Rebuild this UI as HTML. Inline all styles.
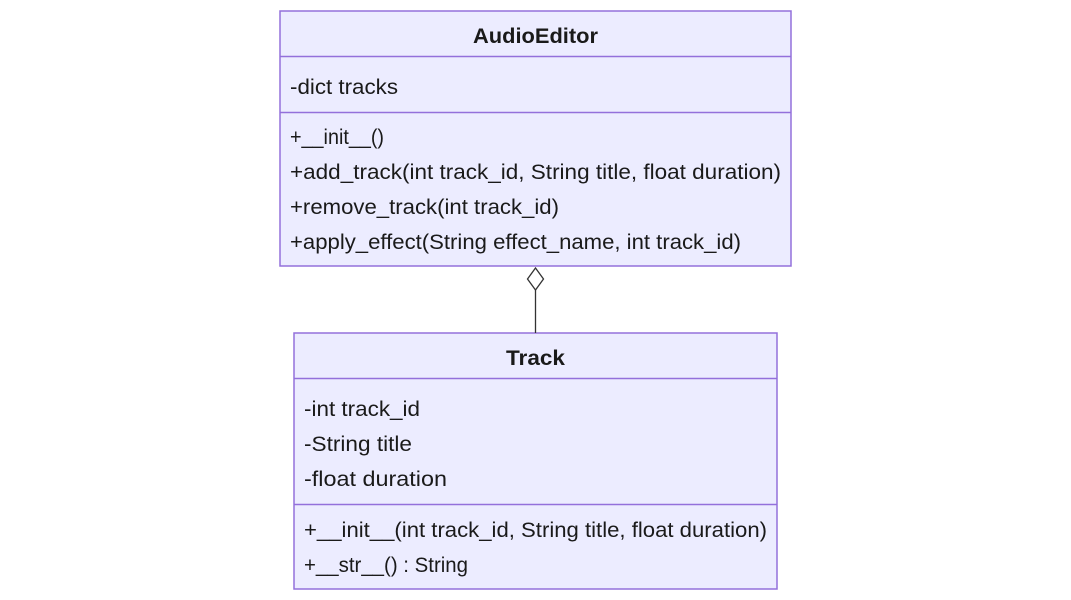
<!DOCTYPE html>
<html><head><meta charset="utf-8"><style>
html,body{margin:0;padding:0;background:#fff;width:1071px;height:600px;overflow:hidden}
svg text{font-family:"Liberation Sans",sans-serif;font-size:21px;fill:#1a1a1a}
</style></head><body>
<svg width="1071" height="600" viewBox="0 0 1071 600" xmlns="http://www.w3.org/2000/svg">
<g stroke="#9370db" stroke-width="1.5" fill="#ececff">
<rect x="280" y="11" width="511" height="255"/>
<line x1="280" y1="56.5" x2="791" y2="56.5"/>
<line x1="280" y1="112.5" x2="791" y2="112.5"/>
<rect x="294" y="333" width="483" height="256"/>
<line x1="294" y1="378.5" x2="777" y2="378.5"/>
<line x1="294" y1="504.5" x2="777" y2="504.5"/>
</g>
<line x1="535.5" y1="290" x2="535.5" y2="333" stroke="#333" stroke-width="1.3"/>
<polygon points="535.5,268 543.5,279 535.5,290 527.5,279" fill="#fff" stroke="#333" stroke-width="1.3"/>
<text x="535.5" y="43" text-anchor="middle" font-weight="bold" textLength="125" lengthAdjust="spacingAndGlyphs">AudioEditor</text>
<text x="290" y="94" textLength="108" lengthAdjust="spacingAndGlyphs">-dict tracks</text>
<text x="290" y="144" textLength="94" lengthAdjust="spacingAndGlyphs">+__init__()</text>
<text x="290" y="179" textLength="491" lengthAdjust="spacingAndGlyphs">+add_track(int track_id, String title, float duration)</text>
<text x="290" y="214" textLength="269" lengthAdjust="spacingAndGlyphs">+remove_track(int track_id)</text>
<text x="290" y="249" textLength="451" lengthAdjust="spacingAndGlyphs">+apply_effect(String effect_name, int track_id)</text>
<text x="535.5" y="365" text-anchor="middle" font-weight="bold" textLength="59" lengthAdjust="spacingAndGlyphs">Track</text>
<text x="304" y="416" textLength="116" lengthAdjust="spacingAndGlyphs">-int track_id</text>
<text x="304" y="451" textLength="108" lengthAdjust="spacingAndGlyphs">-String title</text>
<text x="304" y="486" textLength="143" lengthAdjust="spacingAndGlyphs">-float duration</text>
<text x="304" y="537" textLength="463" lengthAdjust="spacingAndGlyphs">+__init__(int track_id, String title, float duration)</text>
<text x="304" y="572" textLength="164" lengthAdjust="spacingAndGlyphs">+__str__() : String</text>
</svg>
</body></html>
